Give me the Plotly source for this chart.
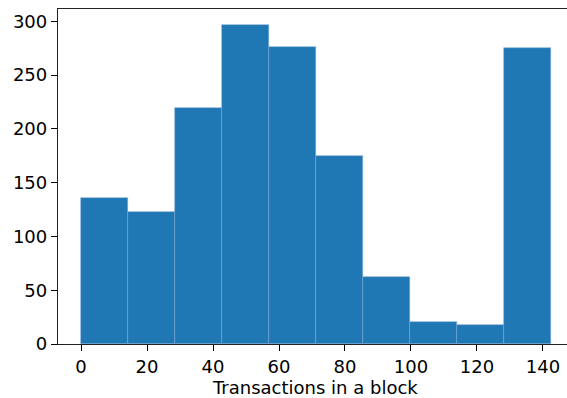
import plotly.graph_objects as go

bin_edges = [0.0, 14.23, 28.46, 42.69, 56.92, 71.15, 85.38, 99.61, 113.84, 128.07, 142.3]
counts = [136, 123, 219, 297, 276, 175, 62, 20, 18, 275]
x_ticks = [0, 20, 40, 60, 80, 100, 120, 140]
y_ticks = [0, 50, 100, 150, 200, 250, 300]
x_label = "Transactions in a block"

centers = [(a + b) / 2 for a, b in zip(bin_edges[:-1], bin_edges[1:])]
widths = [b - a for a, b in zip(bin_edges[:-1], bin_edges[1:])]

fig = go.Figure(go.Bar(
    x=centers, y=counts, width=widths,
    marker=dict(color="#1f77b4", line=dict(width=0.6, color="rgba(120,170,215,0.9)")),
))

font = dict(family="DejaVu Sans", size=18, color="black")
fig.update_layout(
    width=567, height=398,
    margin=dict(l=58, r=0, t=9, b=54),
    plot_bgcolor="white", paper_bgcolor="white",
    showlegend=False, bargap=0,
    font=font,
    annotations=[dict(text=x_label, xref="paper", yref="paper", x=0.505, y=0,
                      yshift=-31, xanchor="center", yanchor="top", showarrow=False,
                      font=font)],
)
fig.update_xaxes(range=[-7.0, 147.3], tickvals=x_ticks, ticks="outside", ticklen=6,
                 tickwidth=1.3, tickcolor="black", showline=True, linewidth=1.3,
                 linecolor="#222", mirror=True, showgrid=False, zeroline=False,
                 tickfont=font)
fig.update_yaxes(range=[0, 311.5], tickvals=y_ticks, ticks="outside", ticklen=6,
                 tickwidth=1.3, tickcolor="black", showline=True, linewidth=1.3,
                 linecolor="#222", showgrid=False, zeroline=False, tickfont=font)

fig.write_html("out.html")
